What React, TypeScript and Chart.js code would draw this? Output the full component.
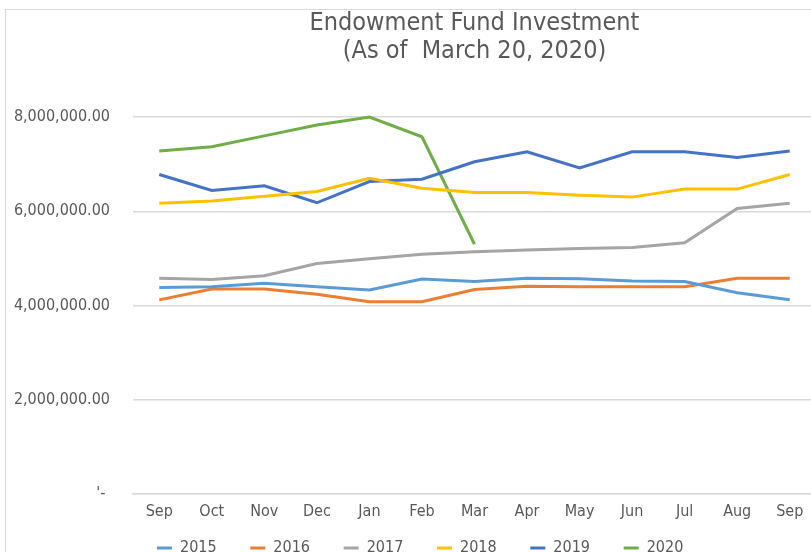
import React, { useEffect, useRef } from "react";
import { Chart, registerables } from "chart.js";

Chart.register(...registerables);

const months = ["Sep", "Oct", "Nov", "Dec", "Jan", "Feb", "Mar", "Apr", "May", "Jun", "Jul", "Aug", "Sep"];
const seriesNames = ["2015", "2016", "2017", "2018", "2019", "2020"];
const seriesColors = ["#5B9BD5", "#ED7D31", "#A5A5A5", "#FFC000", "#4472C4", "#70AD47"];

const s2015 = [4380000, 4400000, 4470000, 4400000, 4330000, 4560000, 4510000, 4580000, 4570000, 4520000, 4510000, 4270000, 4120000];
const s2016 = [4120000, 4350000, 4350000, 4240000, 4080000, 4080000, 4340000, 4410000, 4400000, 4400000, 4400000, 4580000, 4580000];
const s2017 = [4580000, 4550000, 4630000, 4890000, 4990000, 5090000, 5140000, 5180000, 5210000, 5230000, 5330000, 6060000, 6170000];
const s2018 = [6170000, 6220000, 6320000, 6420000, 6700000, 6490000, 6400000, 6400000, 6340000, 6300000, 6470000, 6470000, 6780000];
const s2019 = [6780000, 6440000, 6540000, 6180000, 6630000, 6680000, 7050000, 7260000, 6920000, 7260000, 7260000, 7140000, 7280000];
const s2020 = [7280000, 7370000, 7600000, 7830000, 8000000, 7580000, 5300000, null, null, null, null, null, null];

const seriesValues = [s2015, s2016, s2017, s2018, s2019, s2020];

const titleLines = ["Endowment Fund Investment", "(As of  March 20, 2020)"];
const yMin = 0;
const yMax = 8000000;
const yStep = 2000000;

const W = 849;
const H = 566;
const FONT = "'DejaVu Sans Condensed', 'Liberation Sans Narrow', 'DejaVu Sans', sans-serif";
const TEXT = "#595959";
const GRID = "#d9d9d9";

const framePlugin = {
  id: "frame",
  beforeDraw(chart: any) {
    const ctx = chart.ctx;
    ctx.save();
    ctx.fillStyle = "#ffffff";
    ctx.fillRect(0, 0, chart.width, chart.height);
    ctx.strokeStyle = GRID;
    ctx.lineWidth = 1;
    ctx.strokeRect(5.5, 9.5, chart.width + 20, chart.height + 20);
    ctx.restore();
  },
};

export default function App() {
  const ref = useRef<HTMLCanvasElement | null>(null);

  useEffect(() => {
    if (!ref.current) return;
    const chart = new Chart(ref.current, {
      type: "line",
      data: {
        labels: months,
        datasets: seriesNames.map((name, i) => ({
          label: name,
          data: seriesValues[i],
          borderColor: seriesColors[i],
          backgroundColor: seriesColors[i],
          borderWidth: 3,
          pointRadius: 0,
          pointHoverRadius: 0,
          tension: 0,
          spanGaps: false,
          clip: false as any,
        })),
      },
      options: {
        responsive: false,
        animation: false,
        layout: { padding: { left: 5, right: 0, top: 0, bottom: 0 } },
        plugins: {
          tooltip: { enabled: false },
          title: {
            display: true,
            text: titleLines,
            fullSize: false,
            color: TEXT,
            font: { family: FONT, size: 25, weight: "normal", lineHeight: 1.1 },
            padding: { top: 10, bottom: 52 },
          },
          legend: {
            display: true,
            position: "bottom",
            labels: {
              color: TEXT,
              font: { family: FONT, size: 16 },
              boxWidth: 15,
              boxHeight: 3,
              padding: 20,
              generateLabels: (c: any) =>
                Chart.defaults.plugins.legend.labels.generateLabels(c).map((it: any) => ({
                  ...it,
                  text: it.text + "   ",
                  lineWidth: 0,
                  strokeStyle: "transparent",
                })),
            },
          },
        },
        scales: {
          x: {
            offset: true,
            grid: { display: false, drawTicks: false },
            border: { display: true, color: GRID, width: 1.5 },
            ticks: {
              color: TEXT,
              font: { family: FONT, size: 16 },
              padding: 8,
              maxRotation: 0,
              autoSkip: false,
            },
            afterFit: (scale: any) => {
              scale.height = 26;
            },
          },
          y: {
            min: yMin,
            max: yMax,
            grid: { color: GRID, lineWidth: 1.5, drawTicks: false },
            border: { display: false },
            ticks: {
              stepSize: yStep,
              color: TEXT,
              padding: 23,
              font: { family: FONT, size: 16 },
              callback: (v: any) =>
                Number(v) === 0
                  ? "'- "
                  : Number(v).toLocaleString("en-US", { minimumFractionDigits: 2, maximumFractionDigits: 2 }),
            },
            afterFit: (scale: any) => {
              scale.width = 128;
            },
          },
          yRight: {
            position: "right",
            min: yMin,
            max: yMax,
            grid: { display: false, drawTicks: false },
            border: { display: false },
            ticks: { display: false },
            afterFit: (scale: any) => {
              scale.width = 33;
            },
          },
        },
      },
      plugins: [framePlugin],
    });
    return () => chart.destroy();
  }, []);

  return (
    <div style={{ position: "fixed", left: 0, top: 0, width: W, height: H }}>
      <canvas ref={ref} width={W} height={H} style={{ display: "block" }} />
    </div>
  );
}
